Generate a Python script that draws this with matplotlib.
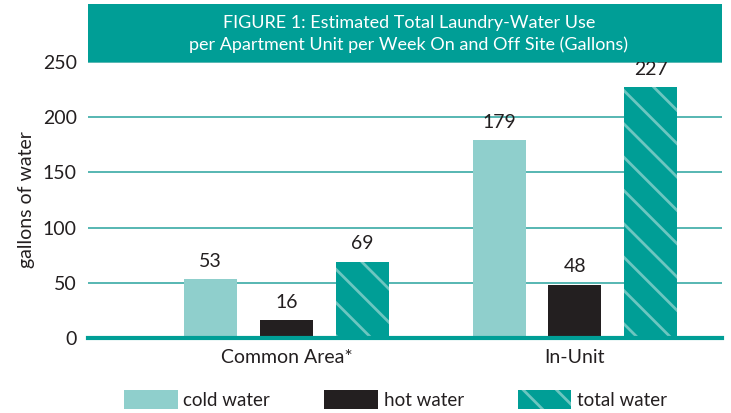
import numpy as np
import matplotlib
matplotlib.use("Agg")
import matplotlib.pyplot as plt
from matplotlib.patches import Rectangle, Patch

plt.rcParams['font.family'] = ['Lato', 'DejaVu Sans']
plt.rcParams['hatch.linewidth'] = 2.0

# data
categories = ["Common Area*", "In-Unit"]
series = ["cold water", "hot water", "total water"]
cold = [53, 179]
hot = [16, 48]
total = [69, 227]
yticks = [0, 50, 100, 150, 200, 250]

TEAL = "#009e96"
COLD = "#8fcfcc"
HOT = "#231f20"
HATCH = "#6cc6c0"
TXT = "#231f20"

fig = plt.figure(figsize=(7.31, 4.13), dpi=100)
ax = fig.add_axes([0.1204, 0.1816, 0.8673, 0.6683])

x = np.arange(len(categories))
w = 0.184
off = 0.263
ax.bar(x - off, cold, w, color=COLD, zorder=3)
ax.bar(x, hot, w, color=HOT, zorder=3)
ax.bar(x + off, total, w, color=TEAL, hatch="\\", edgecolor=HATCH, linewidth=0, zorder=3)

for xs, vals in [(x - off, cold), (x, hot), (x + off, total)]:
    for xi, v in zip(xs, vals):
        ax.annotate(str(v), (xi, v), xytext=(0, 7), textcoords="offset points",
                    ha="center", va="bottom", fontsize=14, color=TXT)

ax.set_xlim(-0.688, 1.51)
ax.set_ylim(0, 250)
ax.set_yticks(yticks)
ax.set_xticks(x)
ax.set_xticklabels(categories, fontsize=14, color=TXT)
ax.tick_params(axis="both", length=0, labelsize=14, colors=TXT)
ax.tick_params(axis="x", pad=8)
ax.tick_params(axis="y", pad=8)
ax.set_ylabel("gallons of water", fontsize=14, color=TXT, labelpad=6)
ax.grid(axis="y", color="#3aaaa5", linewidth=1.2, zorder=0)
for s in ["top", "right", "left"]:
    ax.spines[s].set_visible(False)
ax.spines["bottom"].set_color(TEAL)
ax.spines["bottom"].set_linewidth(3)
ax.spines["bottom"].set_zorder(4)

# title banner
fig.patches.append(Rectangle((0.1204, 0.8499), 0.8673, 0.1404, transform=fig.transFigure,
                             facecolor=TEAL, edgecolor="none"))
fig.text(0.5595, 0.918, "FIGURE 1: Estimated Total Laundry-Water Use\n"
         "per Apartment Unit per Week On and Off Site (Gallons)",
         ha="center", va="center", color="white", fontsize=13, linespacing=1.4)

handles = [Patch(facecolor=COLD), Patch(facecolor=HOT),
           Patch(facecolor=TEAL, hatch="\\", edgecolor=HATCH, linewidth=0)]
fig.legend(handles, series, loc="center left", bbox_to_anchor=(0.17, 0.032), ncol=3,
           frameon=False, fontsize=13.5, handlelength=2.85, handleheight=1.15,
           columnspacing=2.9, handletextpad=0.3, labelcolor=TXT,
           borderaxespad=0, borderpad=0)

fig.savefig("out.png", dpi=100)
